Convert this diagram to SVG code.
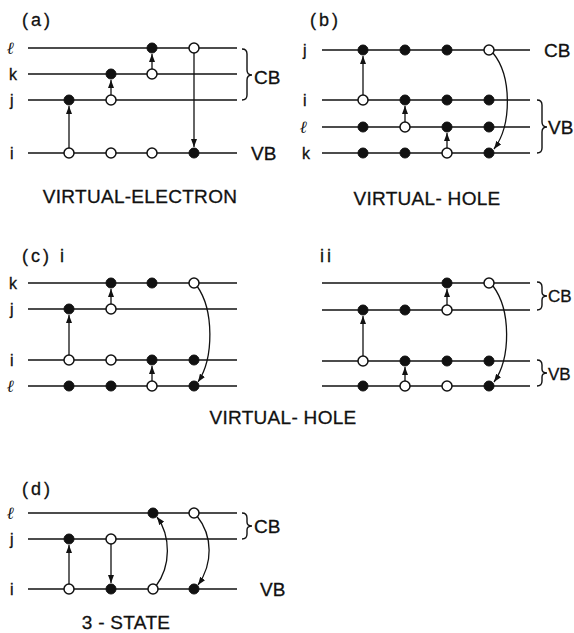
<svg xmlns="http://www.w3.org/2000/svg" width="574" height="633" viewBox="0 0 574 633">
<style>
.ln{stroke:#111;stroke-width:1.4;fill:none}
.ar{stroke:#111;stroke-width:1.3;fill:none;marker-end:url(#ah)}
.br{stroke:#111;stroke-width:1.4;fill:none}
.f{fill:#111;stroke:#111;stroke-width:1}
.o{fill:#fff;stroke:#111;stroke-width:1.5}
.t{font-family:"Liberation Sans",Arial,sans-serif;fill:#111;stroke:#111;stroke-width:0.3}
.lab{font-size:16px}
.band{font-size:19px}
.band2{font-size:17px}
.cap{font-size:19px;letter-spacing:0.3px}
.pl{font-size:18px;letter-spacing:3px}
.ell{font-family:"DejaVu Serif","Liberation Serif",serif;font-size:17px;font-weight:bold;font-style:italic;fill:#111}
</style>
<defs>
<marker id="ah" markerUnits="userSpaceOnUse" markerWidth="8" markerHeight="6" refX="8" refY="3" orient="auto">
<path d="M0,0 L8,3 L0,6 z" fill="#111"/>
</marker>
</defs>

<!-- panel a -->
<g id="panel-a">
<text class="t pl" x="22" y="26">(a)</text>
<g id="a-levels">
<line class="ln" x1="28" y1="48" x2="237" y2="48"/>
<line class="ln" x1="28" y1="74" x2="237" y2="74"/>
<line class="ln" x1="28" y1="100" x2="237" y2="100"/>
<line class="ln" x1="28" y1="153" x2="237" y2="153"/>
<text class="ell" x="7" y="54">ℓ</text>
<text class="t lab" x="9" y="80">k</text>
<text class="t lab" x="10" y="106">j</text>
<text class="t lab" x="10" y="159">i</text>
<path class="br" d="M242 49 Q247 49 247 54 L247 70 Q247 75 252 75 Q247 75 247 80 L247 95 Q247 100 242 100"/>
<text class="t band" x="254" y="84">CB</text>
<text class="t band" x="251" y="160">VB</text>
</g>
<g id="a-connectors">
<line class="ar" x1="69" y1="153" x2="69" y2="106"/>
<line class="ar" x1="111" y1="100" x2="111" y2="80"/>
<line class="ar" x1="152" y1="74" x2="152" y2="54"/>
<line class="ar" x1="194" y1="48" x2="194" y2="147"/>
</g>
<g id="a-nodes">
<circle class="f" cx="152" cy="48" r="5"/><circle class="o" cx="194" cy="48" r="5"/>
<circle class="f" cx="111" cy="74" r="5"/><circle class="o" cx="152" cy="74" r="5"/>
<circle class="f" cx="69" cy="100" r="5"/><circle class="o" cx="111" cy="100" r="5"/>
<circle class="o" cx="69" cy="153" r="5"/><circle class="o" cx="111" cy="153" r="5"/><circle class="o" cx="152" cy="153" r="5"/><circle class="f" cx="194" cy="153" r="5"/>
</g>
<text class="t cap" x="140" y="203" text-anchor="middle">VIRTUAL-ELECTRON</text>
</g>

<!-- panel b -->
<g id="panel-b">
<text class="t pl" x="310" y="26">(b)</text>
<g id="b-levels">
<line class="ln" x1="322" y1="50" x2="530" y2="50"/>
<line class="ln" x1="322" y1="100" x2="530" y2="100"/>
<line class="ln" x1="322" y1="127" x2="530" y2="127"/>
<line class="ln" x1="322" y1="153" x2="530" y2="153"/>
<text class="t lab" x="303" y="56">j</text>
<text class="t lab" x="303" y="106">i</text>
<text class="ell" x="300" y="133">ℓ</text>
<text class="t lab" x="302" y="159">k</text>
<text class="t band" x="544" y="57">CB</text>
<path class="br" d="M537 100 Q542 100 542 105 L542 122 Q542 127 547 127 Q542 127 542 132 L542 148 Q542 153 537 153"/>
<text class="t band" x="548" y="134">VB</text>
</g>
<g id="b-connectors">
<line class="ar" x1="363" y1="100" x2="363" y2="56"/>
<line class="ar" x1="405" y1="127" x2="405" y2="106"/>
<line class="ar" x1="447" y1="153" x2="447" y2="133"/>
<path class="ar" d="M493 53 C512 76, 512 125, 494 149"/>
</g>
<g id="b-nodes">
<circle class="f" cx="363" cy="50" r="5"/><circle class="f" cx="405" cy="50" r="5"/><circle class="f" cx="447" cy="50" r="5"/><circle class="o" cx="489" cy="50" r="5"/>
<circle class="o" cx="363" cy="100" r="5"/><circle class="f" cx="405" cy="100" r="5"/><circle class="f" cx="447" cy="100" r="5"/><circle class="f" cx="489" cy="100" r="5"/>
<circle class="f" cx="363" cy="127" r="5"/><circle class="o" cx="405" cy="127" r="5"/><circle class="f" cx="447" cy="127" r="5"/><circle class="f" cx="489" cy="127" r="5"/>
<circle class="f" cx="363" cy="153" r="5"/><circle class="f" cx="405" cy="153" r="5"/><circle class="o" cx="447" cy="153" r="5"/><circle class="f" cx="489" cy="153" r="5"/>
</g>
<text class="t cap" x="427" y="205" text-anchor="middle">VIRTUAL- HOLE</text>
</g>

<!-- panel c i -->
<g id="panel-c-i">
<text class="t pl" x="22" y="262">(c) i</text>
<g id="ci-levels">
<line class="ln" x1="28" y1="283" x2="237" y2="283"/>
<line class="ln" x1="28" y1="309" x2="237" y2="309"/>
<line class="ln" x1="28" y1="360" x2="237" y2="360"/>
<line class="ln" x1="28" y1="386" x2="237" y2="386"/>
<text class="t lab" x="9" y="289">k</text>
<text class="t lab" x="10" y="315">j</text>
<text class="t lab" x="10" y="366">i</text>
<text class="ell" x="7" y="392">ℓ</text>
</g>
<g id="ci-connectors">
<line class="ar" x1="69" y1="360" x2="69" y2="315"/>
<line class="ar" x1="111" y1="309" x2="111" y2="289"/>
<line class="ar" x1="152" y1="386" x2="152" y2="366"/>
<path class="ar" d="M197 286 C214 310, 214 358, 198 382"/>
</g>
<g id="ci-nodes">
<circle class="f" cx="111" cy="283" r="5"/><circle class="f" cx="152" cy="283" r="5"/><circle class="o" cx="194" cy="283" r="5"/>
<circle class="f" cx="69" cy="309" r="5"/><circle class="o" cx="111" cy="309" r="5"/>
<circle class="o" cx="69" cy="360" r="5"/><circle class="o" cx="111" cy="360" r="5"/><circle class="f" cx="152" cy="360" r="5"/><circle class="f" cx="194" cy="360" r="5"/>
<circle class="f" cx="69" cy="386" r="5"/><circle class="f" cx="111" cy="386" r="5"/><circle class="o" cx="152" cy="386" r="5"/><circle class="f" cx="194" cy="386" r="5"/>
</g>
</g>

<!-- panel c ii -->
<g id="panel-c-ii">
<text class="t pl" x="320" y="262">ii</text>
<g id="cii-levels">
<line class="ln" x1="322" y1="283" x2="530" y2="283"/>
<line class="ln" x1="322" y1="310" x2="530" y2="310"/>
<line class="ln" x1="322" y1="361" x2="530" y2="361"/>
<line class="ln" x1="322" y1="386" x2="530" y2="386"/>
<path class="br" d="M537 282 Q542 282 542 287 L542 292 Q542 296 547 296 Q542 296 542 300 L542 305 Q542 310 537 310"/>
<text class="t band2" x="548" y="302">CB</text>
<path class="br" d="M537 360 Q542 360 542 365 L542 369 Q542 373 547 373 Q542 373 542 377 L542 381 Q542 386 537 386"/>
<text class="t band2" x="548" y="380">VB</text>
</g>
<g id="cii-connectors">
<line class="ar" x1="363" y1="361" x2="363" y2="316"/>
<line class="ar" x1="405" y1="386" x2="405" y2="367"/>
<line class="ar" x1="447" y1="310" x2="447" y2="289"/>
<path class="ar" d="M493 286 C511 310, 511 358, 494 382"/>
</g>
<g id="cii-nodes">
<circle class="f" cx="447" cy="283" r="5"/><circle class="o" cx="489" cy="283" r="5"/>
<circle class="f" cx="363" cy="310" r="5"/><circle class="f" cx="405" cy="310" r="5"/><circle class="o" cx="447" cy="310" r="5"/>
<circle class="o" cx="363" cy="361" r="5"/><circle class="f" cx="405" cy="361" r="5"/><circle class="f" cx="447" cy="361" r="5"/><circle class="f" cx="489" cy="361" r="5"/>
<circle class="f" cx="363" cy="386" r="5"/><circle class="o" cx="405" cy="386" r="5"/><circle class="o" cx="447" cy="386" r="5"/><circle class="f" cx="489" cy="386" r="5"/>
</g>
</g>
<text class="t cap" x="283" y="424" text-anchor="middle">VIRTUAL- HOLE</text>

<!-- panel d -->
<g id="panel-d">
<text class="t pl" x="22" y="495">(d)</text>
<g id="d-levels">
<line class="ln" x1="28" y1="513" x2="237" y2="513"/>
<line class="ln" x1="28" y1="539" x2="237" y2="539"/>
<line class="ln" x1="28" y1="589" x2="237" y2="589"/>
<text class="ell" x="7" y="519">ℓ</text>
<text class="t lab" x="10" y="545">j</text>
<text class="t lab" x="10" y="595">i</text>
<path class="br" d="M242 513 Q247 513 247 518 L247 522 Q247 526 252 526 Q247 526 247 530 L247 534 Q247 539 242 539"/>
<text class="t band" x="254" y="533">CB</text>
<text class="t band" x="260" y="596">VB</text>
</g>
<g id="d-connectors">
<line class="ar" x1="69" y1="589" x2="69" y2="545"/>
<line class="ar" x1="111" y1="539" x2="111" y2="583"/>
<path class="ar" d="M156 586 C171 566, 171 536, 157 517"/>
<path class="ar" d="M197 516 C213 536, 213 564, 198 585"/>
</g>
<g id="d-nodes">
<circle class="f" cx="153" cy="513" r="5"/><circle class="o" cx="194" cy="513" r="5"/>
<circle class="f" cx="69" cy="539" r="5"/><circle class="o" cx="111" cy="539" r="5"/>
<circle class="o" cx="69" cy="589" r="5"/><circle class="f" cx="111" cy="589" r="5"/><circle class="o" cx="153" cy="589" r="5"/><circle class="f" cx="194" cy="589" r="5"/>
</g>
<text class="t cap" x="126" y="629" text-anchor="middle">3 - STATE</text>
</g>
</svg>
